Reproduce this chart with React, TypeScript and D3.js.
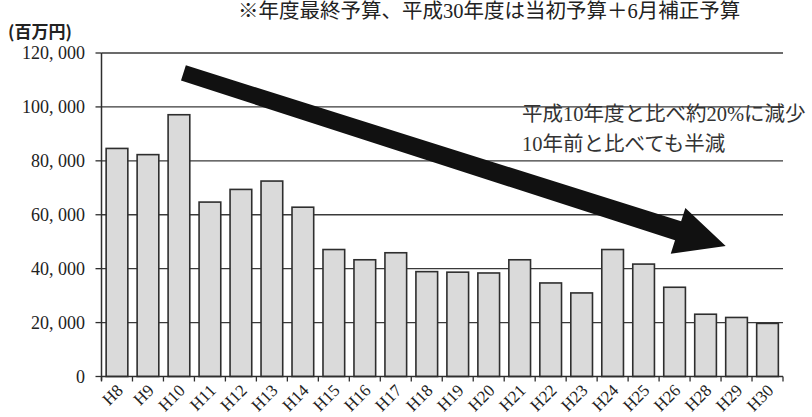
import React from "react";
import * as d3 from "d3";

const categories = ["H8","H9","H10","H11","H12","H13","H14","H15","H16","H17","H18","H19","H20","H21","H22","H23","H24","H25","H26","H28","H29","H30"];
const budget = [84600,82300,97100,64700,69400,72500,62800,47100,43300,45900,38900,38700,38400,43300,34700,31000,47100,41700,33100,23100,21900,19700];
const yTicks = [0,20000,40000,60000,80000,100000,120000];
const titleText = "※年度最終予算、平成30年度は当初予算＋6月補正予算";
const unitText = "(百万円)";
const noteLines = ["平成10年度と比べ約20%に減少", "10年前と比べても半減"];
// arrow anchors in data space: [category index position, value]
const arrowTail = [2.645, 112600];
const arrowTip = [20.15, 48400];

const W = 812, H = 417;
const left = 101.5, right = 783, top = 53, bottom = 376.5;

export default function App() {
  const x = d3.scaleBand<string>().domain(categories).range([left, right]).paddingInner(0.3).paddingOuter(0.15);
  const xi = d3.scaleLinear().domain([0, categories.length]).range([left, right]);
  const y = d3.scaleLinear().domain([0, 120000]).range([bottom, top]);
  const fmt = (v: number) => d3.format(",")(v).replace(/,/g, ", ");
  const step = x.step();
  const boundaries = d3.range(categories.length + 1).map((i) => left + i * step);

  const T = [xi(arrowTail[0]), y(arrowTail[1])];
  const P = [xi(arrowTip[0]), y(arrowTip[1])];
  const dx = P[0] - T[0], dy = P[1] - T[1];
  const len = Math.hypot(dx, dy);
  const u = [dx / len, dy / len];
  const n = [-u[1], u[0]];
  const headLen = 50, headHalf = 24, tailHalf = 8, shaftHalf = 10;
  const J = [P[0] - u[0] * headLen, P[1] - u[1] * headLen];
  const pt = (b: number[], s: number) => [b[0] + n[0] * s, b[1] + n[1] * s];
  const poly = [pt(T, -tailHalf), pt(J, -shaftHalf), pt(J, -headHalf), P, pt(J, headHalf), pt(J, shaftHalf), pt(T, tailHalf)];
  const polyStr = poly.map((p) => p.join(",")).join(" ");

  const serif = "'Liberation Serif', 'Times New Roman', 'DejaVu Serif', 'Noto Sans CJK JP', serif";

  return (
    <svg width={W} height={H} style={{ position: "absolute", left: 0, top: 0, background: "#fff" }}>
      <text x={238} y={18} fontSize={20.5} fill="#222" style={{ fontFamily: serif }}>{titleText}</text>
      <text x={8} y={38} fontSize={17} fontWeight="bold" fontFamily="'Noto Sans CJK JP', sans-serif" fill="#222">{unitText}</text>

      {yTicks.filter((t) => t > 0).map((t) => (
        <line key={t} x1={left} x2={right} y1={y(t)} y2={y(t)} stroke="#3a3a3a" strokeWidth={1.3} />
      ))}

      {categories.map((c, i) => (
        <rect key={c} x={x(c)} y={y(budget[i])} width={x.bandwidth()} height={bottom - y(budget[i])}
          fill="#dadada" stroke="#2e2e2e" strokeWidth={1.6} />
      ))}

      <line x1={left} x2={left} y1={top} y2={bottom + 4} stroke="#2e2e2e" strokeWidth={1.5} />
      {yTicks.map((t) => (
        <g key={t}>
          <line x1={left - 6} x2={left} y1={y(t)} y2={y(t)} stroke="#2e2e2e" strokeWidth={1.3} />
          <text x={85} y={y(t)} dy="0.35em" textAnchor="end" fontSize={18} fill="#222" style={{ fontFamily: serif }}>{fmt(t)}</text>
        </g>
      ))}

      <line x1={left} x2={right} y1={bottom} y2={bottom} stroke="#2e2e2e" strokeWidth={1.5} />
      {boundaries.map((b, i) => (
        <line key={i} x1={b} x2={b} y1={bottom} y2={bottom + 5} stroke="#2e2e2e" strokeWidth={1.3} />
      ))}
      {categories.map((c) => {
        const cx = (x(c) as number) + x.bandwidth() / 2 + 7;
        const cy = bottom + 15;
        return (
          <text key={c} x={cx} y={cy} textAnchor="end" fontSize={17} fill="#222" style={{ fontFamily: serif }}
            transform={`rotate(-45,${cx},${cy})`}>{c}</text>
        );
      })}

      <polygon points={polyStr} fill="#111" />

      {noteLines.map((l, i) => (
        <text key={i} x={522} y={121 + i * 30} fontSize={20.5} fill="#333" style={{ fontFamily: serif }}>{l}</text>
      ))}
    </svg>
  );
}
